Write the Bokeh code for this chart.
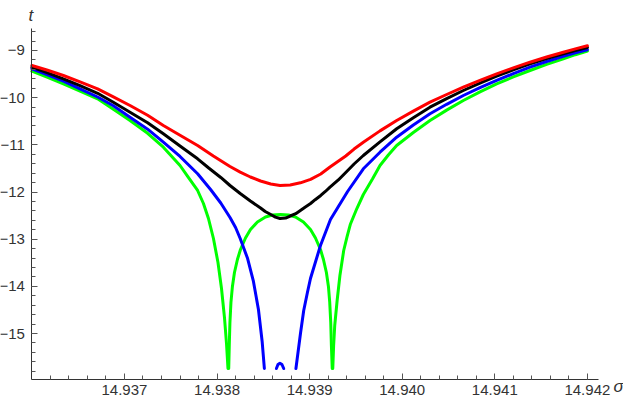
from bokeh.plotting import figure
from bokeh.models import Range1d, FixedTicker, Label
from bokeh.embed import file_html
from bokeh.resources import INLINE
import numpy as np

# ---------------- data ----------------
red_x = [14.93600, 14.93617, 14.93634, 14.93652, 14.93671, 14.93688, 14.93706, 14.93725,
         14.93742, 14.93760, 14.93779, 14.93796, 14.93814, 14.93825, 14.93836, 14.93847,
         14.93858, 14.93868, 14.93879, 14.93890, 14.93901, 14.93912, 14.93922, 14.93939,
         14.93948, 14.93958, 14.93976, 14.93994, 14.94012, 14.94030, 14.94048, 14.94066,
         14.94084, 14.94102, 14.94120, 14.94138, 14.94156, 14.94174, 14.94187, 14.94200]
red_y = [-9.318, -9.420, -9.530, -9.666, -9.812, -9.982, -10.166, -10.374,
         -10.590, -10.798, -11.014, -11.237, -11.459, -11.578, -11.682, -11.767,
         -11.830, -11.862, -11.851, -11.805, -11.731, -11.618, -11.470, -11.237,
         -11.090, -10.944, -10.704, -10.484, -10.285, -10.096, -9.933, -9.778,
         -9.632, -9.494, -9.367, -9.248, -9.138, -9.036, -8.966, -8.900]

black_x = [14.93600, 14.93617, 14.93634, 14.93652, 14.93671, 14.93688, 14.93706, 14.93725,
           14.93742, 14.93760, 14.93779, 14.93791, 14.93804, 14.93814, 14.93825, 14.93836,
           14.93847, 14.93852, 14.93858, 14.93863, 14.93868, 14.93874, 14.93879, 14.93885,
           14.93890, 14.93895, 14.93901, 14.93906, 14.93912, 14.93917, 14.93922, 14.93931,
           14.93939, 14.93948, 14.93958, 14.93976, 14.93994, 14.94012, 14.94030, 14.94048,
           14.94066, 14.94084, 14.94102, 14.94120, 14.94138, 14.94156, 14.94174, 14.94187,
           14.94200]
black_y = [-9.354, -9.473, -9.600, -9.746, -9.907, -10.098, -10.308, -10.531,
           -10.766, -11.025, -11.296, -11.491, -11.692, -11.862, -12.032, -12.191,
           -12.339, -12.413, -12.477, -12.532, -12.562, -12.553, -12.509, -12.460,
           -12.392, -12.322, -12.244, -12.163, -12.074, -11.989, -11.898, -11.745,
           -11.586, -11.406, -11.226, -10.938, -10.660, -10.425, -10.202, -10.020,
           -9.848, -9.691, -9.545, -9.409, -9.282, -9.172, -9.070, -9.000,
           -8.936]

blue_left_x = [14.93600, 14.93617, 14.93634, 14.93652, 14.93671, 14.93688, 14.93706, 14.93725,
               14.93742, 14.93760, 14.93779, 14.93793, 14.93804, 14.93814, 14.93820, 14.93825,
               14.938328, 14.938393, 14.938447, 14.938487, 14.938511]
blue_left_y = [-9.388, -9.515, -9.651, -9.812, -9.986, -10.172, -10.414, -10.668,
               -10.944, -11.247, -11.614, -11.947, -12.233, -12.540, -12.752, -12.986,
               -13.399, -13.897, -14.491, -15.169, -15.742]
blue_bump_x = [14.938641, 14.938658, 14.938679, 14.938701, 14.938720]
blue_bump_y = [-15.742, -15.657, -15.629, -15.657, -15.742]
blue_right_x = [14.938852, 14.938901, 14.938936, 14.938976, 14.939009, 14.939117, 14.939225,
                14.93941, 14.93958, 14.93976, 14.93994, 14.94012, 14.94030, 14.94048,
                14.94066, 14.94084, 14.94102, 14.94120, 14.94138, 14.94156, 14.94174,
                14.94187, 14.94200]
blue_right_y = [-15.742, -15.000, -14.512, -14.130, -13.834, -13.134, -12.583, -11.989,
                -11.508, -11.156, -10.838, -10.579, -10.342, -10.141, -9.954, -9.789,
                -9.636, -9.490, -9.354, -9.233, -9.121, -9.049, -8.983]

green_left_x = [14.93600, 14.93617, 14.93634, 14.93652, 14.93671, 14.93688, 14.93706, 14.93725,
                14.93742, 14.93760, 14.93769, 14.93779, 14.937853, 14.937907, 14.937961,
                14.938010, 14.938048, 14.938080, 14.938102, 14.938118]
green_left_y = [-9.439, -9.568, -9.706, -9.859, -10.024, -10.244, -10.484, -10.755,
                -11.050, -11.438, -11.692, -11.968, -12.244, -12.562, -12.986,
                -13.494, -14.046, -14.660, -15.212, -15.742]
green_arch_x = [14.938126, 14.938132, 14.938139, 14.938150, 14.938166, 14.938188, 14.938220,
                14.938253, 14.938307, 14.938361, 14.938436, 14.938523, 14.938598, 14.938685,
                14.938771, 14.938847, 14.938933, 14.939009, 14.939063, 14.939117, 14.939149,
                14.939181, 14.939203, 14.939217, 14.939228, 14.939235, 14.939244]
green_arch_y = [-15.742, -15.254, -14.766, -14.342, -14.003, -13.706, -13.431,
                -13.219, -12.975, -12.795, -12.636, -12.530, -12.487, -12.477,
                -12.487, -12.530, -12.636, -12.795, -12.975, -13.219, -13.431,
                -13.706, -14.003, -14.342, -14.766, -15.254, -15.742]
green_right_x = [14.939250, 14.939259, 14.939271, 14.939297, 14.939327, 14.939368, 14.939405,
                 14.939441, 14.93951, 14.93958, 14.93968, 14.93976, 14.93985, 14.93994,
                 14.94012, 14.94030, 14.94048, 14.94066, 14.94084, 14.94102, 14.94120,
                 14.94138, 14.94156, 14.94174, 14.94187, 14.94200]
green_right_y = [-15.742, -15.254, -14.830, -14.300, -13.770, -13.240, -12.943,
                 -12.678, -12.350, -12.053, -11.720, -11.438, -11.215, -11.014,
                 -10.738, -10.484, -10.264, -10.060, -9.876, -9.706, -9.560,
                 -9.424, -9.295, -9.176, -9.089, -9.011]

x_ticks = [14.937, 14.938, 14.939, 14.940, 14.941, 14.942]
x_tick_labels = ["14.937", "14.938", "14.939", "14.940", "14.941", "14.942"]
y_ticks = [-15, -14, -13, -12, -11, -10, -9]
y_tick_labels = ["\u221215", "\u221214", "\u221213", "\u221212", "\u221211", "\u221210", "\u22129"]

# axis extents (where the axis lines run) and the visible area around them
x_axis_lo, x_axis_hi = 14.936, 14.94212
y_axis_lo, y_axis_hi = -15.97, -8.534
x_view = (14.935661, 14.94239)
y_view = (-16.484, -7.94)

# ---------------- figure ----------------
p = figure(width=623, height=403, output_backend="svg", toolbar_location=None,
           x_range=Range1d(*x_view), y_range=Range1d(*y_view),
           min_border=0)
p.grid.visible = False
p.outline_line_color = None
p.background_fill_color = "white"

x_minor = [round(v, 5) for v in np.arange(14.9362, 14.94205, 0.0002)]
y_minor = [round(v, 2) for v in np.arange(-15.8, -8.5, 0.2)]

p.xaxis.ticker = FixedTicker(ticks=x_ticks, minor_ticks=x_minor)
p.yaxis.ticker = FixedTicker(ticks=y_ticks, minor_ticks=y_minor)
p.xaxis.major_label_overrides = dict(zip(x_ticks, x_tick_labels))
p.yaxis.major_label_overrides = dict(zip(y_ticks, y_tick_labels))
p.xaxis.bounds = (x_axis_lo, x_axis_hi)
p.yaxis.bounds = (y_axis_lo, y_axis_hi)
p.xaxis.fixed_location = y_axis_lo
p.yaxis.fixed_location = x_axis_lo

for ax in (p.xaxis, p.yaxis):
    ax.axis_line_color = "#333333"
    ax.axis_line_width = 1
    ax.major_tick_line_color = "#555555"
    ax.minor_tick_line_color = "#555555"
    ax.major_tick_in = 6
    ax.major_tick_out = 0
    ax.minor_tick_in = 4
    ax.minor_tick_out = 0
    ax.major_label_text_font = "Liberation Sans"
    ax.major_label_text_font_size = "15px"
    ax.major_label_text_color = "#333333"
p.xaxis.major_label_standoff = 6
p.yaxis.major_label_standoff = 7

lw = 3
def line(xs, ys, color):
    p.line(xs, ys, line_color=color, line_width=lw, line_join="round", line_cap="round")

line(green_left_x, green_left_y, "#00FF00")
line(green_arch_x, green_arch_y, "#00FF00")
line(green_right_x, green_right_y, "#00FF00")
line(blue_left_x, blue_left_y, "#0000FF")
line(blue_bump_x, blue_bump_y, "#0000FF")
line(blue_right_x, blue_right_y, "#0000FF")
line(black_x, black_y, "#000000")
line(red_x, red_y, "#FF0000")

# axis names
p.add_layout(Label(x=x_axis_lo, y=-8.258, text="t", text_align="center",
                   text_baseline="alphabetic", x_offset=-1,
                   text_font="Liberation Sans", text_font_style="italic",
                   text_font_size="17px", text_color="#333333"))
p.add_layout(Label(x=14.942281, y=-16.123, text="\u03c3", text_align="left",
                   text_baseline="alphabetic",
                   text_font="Liberation Sans", text_font_style="italic",
                   text_font_size="17px", text_color="#333333"))

open("out.html", "w").write(file_html(p, INLINE))
